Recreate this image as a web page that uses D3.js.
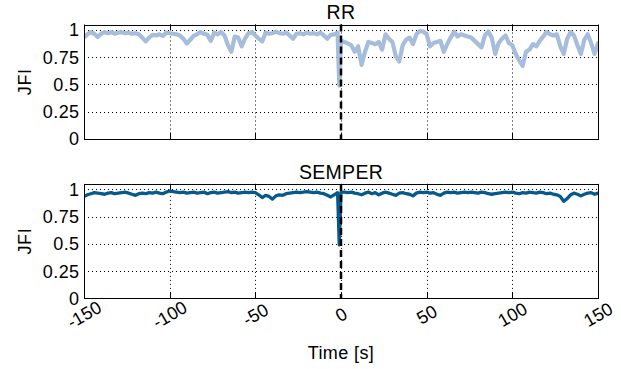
<!DOCTYPE html>
<html><head><meta charset="utf-8">
<script src="https://cdn.jsdelivr.net/npm/d3@7"></script>
<style>
body{margin:0;background:#fff}
text{font-family:"Liberation Sans",Arial,Helvetica,sans-serif;fill:#000}
</style>
</head><body>
<svg id="c" width="621" height="369"></svg>
<script>
// ---- data ----
const time = [-150,-148,-146,-144,-142,-140,-138,-136,-134,-132,
  -130,-128,-126,-124,-122,-120,-118,-116,-114,-112,
  -110,-108,-106,-104,-102,-100,-98,-96,-94,-92,
  -90,-88,-86,-84,-82,-80,-78,-76,-74,-72,
  -70,-68,-66,-64,-62,-60,-58,-56,-54,-52,
  -50,-48,-46,-44,-42,-40,-38,-36,-34,-32,
  -30,-28,-26,-24,-22,-20,-18,-16,-14,-12,
  -10,-8,-6,-4,-2,-1,0,
  2,4,6,8,10,12,14,16,18,20,
  22,24,26,28,30,32,34,36,38,40,
  42,44,46,48,50,52,54,56,58,60,
  62,64,66,68,70,72,74,76,78,80,
  82,84,86,88,90,92,94,96,98,100,
  102,104,106,108,110,112,114,116,118,120,
  122,124,126,128,130,132,134,136,138,140,
  142,144,146,148,150];

const rrJFI = [0.93,0.96,0.98,0.965,0.935,0.965,0.98,0.97,0.98,0.965,
  0.975,0.98,0.97,0.975,0.965,0.97,0.96,0.93,0.895,0.93,
  0.955,0.95,0.96,0.945,0.975,0.97,0.965,0.96,0.95,0.92,
  0.875,0.91,0.945,0.96,0.98,0.965,0.955,0.9,0.975,0.96,
  0.98,0.95,0.86,0.8,0.94,0.93,0.85,0.92,0.97,0.98,
  0.95,0.92,0.895,0.975,0.965,0.97,0.985,0.97,0.965,0.975,
  0.95,0.92,0.965,0.97,0.96,0.975,0.965,0.97,0.96,0.975,
  0.95,0.92,0.955,0.96,0.975,0.49,0.9,
  0.89,0.875,0.86,0.8,0.85,0.68,0.8,0.89,0.88,0.87,
  0.89,0.82,0.96,0.92,0.89,0.76,0.71,0.86,0.91,0.93,
  0.87,0.96,0.99,0.985,0.96,0.85,0.88,0.89,0.9,0.8,
  0.87,0.93,0.985,0.94,0.96,0.95,0.94,0.93,0.9,0.87,
  0.84,0.95,0.985,0.93,0.78,0.88,0.92,0.95,0.88,0.86,
  0.78,0.72,0.67,0.8,0.82,0.87,0.85,0.9,0.94,0.98,
  0.96,0.95,0.96,0.85,0.78,0.92,0.98,0.95,0.86,0.78,
  0.91,0.96,0.88,0.78,0.88];

const semperJFI = [0.935,0.95,0.96,0.97,0.965,0.96,0.955,0.965,0.97,0.96,
  0.965,0.97,0.975,0.965,0.955,0.945,0.96,0.965,0.96,0.97,
  0.965,0.975,0.965,0.96,0.975,0.985,0.98,0.975,0.97,0.975,
  0.965,0.97,0.975,0.965,0.97,0.975,0.96,0.97,0.975,0.965,
  0.97,0.975,0.98,0.97,0.975,0.965,0.97,0.975,0.97,0.975,
  0.97,0.95,0.925,0.945,0.935,0.91,0.94,0.95,0.945,0.96,
  0.965,0.97,0.975,0.97,0.975,0.98,0.975,0.97,0.975,0.965,
  0.96,0.945,0.93,0.95,0.97,0.49,0.975,
  0.975,0.97,0.975,0.965,0.96,0.95,0.965,0.975,0.96,0.97,
  0.95,0.965,0.975,0.965,0.955,0.945,0.965,0.97,0.96,0.955,
  0.94,0.965,0.975,0.97,0.975,0.965,0.97,0.955,0.945,0.965,
  0.975,0.97,0.975,0.965,0.97,0.975,0.97,0.975,0.97,0.965,
  0.975,0.97,0.96,0.955,0.96,0.965,0.97,0.975,0.97,0.975,
  0.965,0.96,0.97,0.965,0.975,0.97,0.965,0.975,0.97,0.96,
  0.965,0.955,0.95,0.935,0.89,0.915,0.95,0.965,0.955,0.94,
  0.955,0.965,0.97,0.955,0.965];

const xTicks = [-150,-100,-50,0,50,100,150];
const xTickLabels = ["-150","-100","-50","0","50","100","150"];
const yTicks = [0,0.25,0.5,0.75,1];
const yTickLabels = ["0","0.25","0.5","0.75","1"];
const titles = ["RR","SEMPER"];
const eventTime = 0;

// ---- layout ----
const svg = d3.select("#c");
svg.append("rect").attr("width",621).attr("height",369).attr("fill","#fff");
const x = d3.scaleLinear().domain([-150,150]).range([84,598]);
const panels = [
  {title:titles[0], values:rrJFI, color:"#a6bddb", lw:4.2, top:24.5, bottom:139, showX:false},
  {title:titles[1], values:semperJFI, color:"#045a8d", lw:3.3, top:183.9, bottom:298.3, showX:true}
];
const FS = 18;

panels.forEach((p,i)=>{
  const y = d3.scaleLinear().domain([0,1.05]).range([p.bottom,p.top]);
  const g = svg.append("g");
  const clipId = "clip"+i;
  svg.append("clipPath").attr("id",clipId).append("rect")
    .attr("x",x.range()[0]).attr("y",y(1.05)).attr("width",x.range()[1]-x.range()[0]).attr("height",y(0)-y(1.05));
  // grid
  g.selectAll(".hg").data(yTicks.filter(d=>d>0)).join("line")
    .attr("x1",x(-150)).attr("x2",x(150))
    .attr("y1",d=>Math.round(y(d))+0.5).attr("y2",d=>Math.round(y(d))+0.5)
    .attr("stroke","#000").attr("stroke-width",1).attr("stroke-dasharray","1,3");
  g.selectAll(".vg").data(xTicks.filter(d=>d>-150&&d<150)).join("line")
    .attr("x1",d=>Math.round(x(d))+0.5).attr("x2",d=>Math.round(x(d))+0.5)
    .attr("y1",y(1.05)).attr("y2",y(0))
    .attr("stroke","#000").attr("stroke-width",1).attr("stroke-dasharray","1,3");
  // ticks (inward, top and bottom)
  g.selectAll(".tb").data(xTicks).join("line")
    .attr("x1",d=>Math.round(x(d))+0.5).attr("x2",d=>Math.round(x(d))+0.5)
    .attr("y1",y(0)).attr("y2",y(0)-6).attr("stroke","#000");
  g.selectAll(".tt").data(xTicks).join("line")
    .attr("x1",d=>Math.round(x(d))+0.5).attr("x2",d=>Math.round(x(d))+0.5)
    .attr("y1",y(1.05)).attr("y2",y(1.05)+6).attr("stroke","#000");
  // data line
  const line = d3.line().x((d,j)=>x(time[j])).y(d=>y(d));
  g.append("path").datum(p.values).attr("d",line)
    .attr("clip-path","url(#"+clipId+")")
    .attr("fill","none").attr("stroke",p.color).attr("stroke-width",p.lw)
    .attr("stroke-linejoin","round").attr("stroke-linecap","round");
  // event dashed line
  g.append("line").attr("x1",x(eventTime)).attr("x2",x(eventTime))
    .attr("y1",y(1.05)).attr("y2",y(0))
    .attr("stroke","#000").attr("stroke-width",2.5).attr("stroke-dasharray","7,4");
  // frame
  g.append("rect").attr("x",Math.round(x(-150))+0.5).attr("y",Math.round(y(1.05))+0.5)
    .attr("width",Math.round(x(150))-Math.round(x(-150))).attr("height",Math.round(y(0))-Math.round(y(1.05)))
    .attr("fill","none").attr("stroke","#000").attr("stroke-width",1);
  // y tick labels
  g.selectAll(".yl").data(yTicks).join("text")
    .attr("x",79.5).attr("y",d=>y(d)).attr("dy","0.36em")
    .attr("text-anchor","end").attr("font-size",FS).attr("letter-spacing",0.4)
    .text((d,j)=>yTickLabels[j]);
  // y label
  g.append("text").attr("transform",`translate(30.5,${(p.top+p.bottom)/2}) rotate(-90)`)
    .attr("text-anchor","middle").attr("font-size",FS).attr("letter-spacing",0.6).text("JFI");
  // title
  g.append("text").attr("x",341).attr("y",p.top-5.3).attr("text-anchor","middle")
    .attr("font-size",19.5).attr("letter-spacing",0.3).text(p.title);
  if(p.showX){
    g.selectAll(".xl").data(xTicks).join("text")
      .attr("transform",d=>`translate(${x(d)},314.5) rotate(-30)`)
      .attr("text-anchor","middle").attr("dy","0.36em").attr("font-size",FS)
      .text((d,j)=>xTickLabels[j]);
    g.append("text").attr("x",341).attr("y",358.5).attr("text-anchor","middle")
      .attr("font-size",FS).attr("letter-spacing",0.4).text("Time [s]");
  }
});
</script>
</body></html>
